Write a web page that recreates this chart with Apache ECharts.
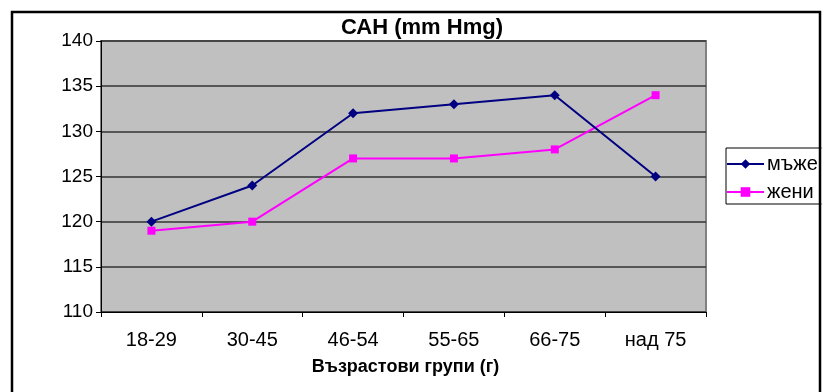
<!DOCTYPE html>
<html>
<head>
<meta charset="utf-8">
<script src="https://cdn.jsdelivr.net/npm/echarts@6/dist/echarts.min.js"></script>
<style>
  html, body { margin: 0; padding: 0; background: #fff; }
  #chart { width: 824px; height: 392px; }
</style>
</head>
<body>
<div id="chart"></div>
<script>
// Age groups and mean systolic pressure per group
const categories = ['18-29', '30-45', '46-54', '55-65', '66-75', 'над 75'];
const men = [120, 124, 132, 133, 134, 125];
const women = [119, 120, 127, 127, 128, 134];
const yTicks = { min: 110, max: 140, step: 5 };

const font = '"Liberation Sans", Arial, sans-serif';
const chart = echarts.init(document.getElementById('chart'), null, { renderer: 'canvas' });

chart.setOption({
  backgroundColor: '#ffffff',
  animation: false,
  title: {
    text: 'САН (mm Hmg)',
    left: 341,
    top: 17,
    padding: 0,
    textStyle: { fontFamily: font, fontSize: 22, fontWeight: 'bold', color: '#000' }
  },
  legend: {
    left: 726,
    top: 148,
    orient: 'vertical',
    padding: [6, 40, 2, 0],
    itemGap: 8,
    itemWidth: 37,
    itemHeight: 12,
    borderColor: '#000',
    borderWidth: 1,
    backgroundColor: '#fff',
    textStyle: { fontFamily: font, fontSize: 20, color: '#000', lineHeight: 20, padding: [0, 0, 0, -2] },
    data: ['мъже', 'жени']
  },
  grid: {
    left: 101,
    top: 41,
    right: 118,
    bottom: 80,
    show: true,
    backgroundColor: '#C0C0C0',
    borderColor: '#808080',
    borderWidth: 2
  },
  xAxis: {
    type: 'category',
    data: categories,
    boundaryGap: true,
    name: 'Възрастови групи (г)',
    nameLocation: 'middle',
    nameGap: 46,
    nameTextStyle: { fontFamily: font, fontSize: 18, fontWeight: 'bold', color: '#000', padding: [0, 0, 0, 4] },
    axisLine: { show: true, lineStyle: { color: '#000', width: 1 } },
    axisTick: { show: true, length: 5, lineStyle: { color: '#000' } },
    axisLabel: { fontFamily: font, fontSize: 20, color: '#000', margin: 18 },
    splitLine: { show: false }
  },
  yAxis: {
    type: 'value',
    min: yTicks.min,
    max: yTicks.max,
    interval: yTicks.step,
    axisLine: { show: true, lineStyle: { color: '#000', width: 1 } },
    axisTick: { show: true, length: 5, lineStyle: { color: '#000' } },
    axisLabel: { fontFamily: font, fontSize: 19, color: '#000', margin: 8 },
    splitLine: { show: true, lineStyle: { color: '#333333', width: 1.5 } }
  },
  series: [
    {
      name: 'мъже',
      type: 'line',
      data: men,
      symbol: 'diamond',
      symbolSize: 10,
      itemStyle: { color: '#000080' },
      lineStyle: { color: '#000080', width: 2 },
      z: 3
    },
    {
      name: 'жени',
      type: 'line',
      data: women,
      symbol: 'rect',
      symbolSize: 8,
      itemStyle: { color: '#FF00FF' },
      lineStyle: { color: '#FF00FF', width: 2 },
      z: 2
    }
  ],
  graphic: [
    {
      type: 'rect',
      z: 100,
      silent: true,
      shape: { x: 12, y: 12, width: 808, height: 400 },
      style: { fill: 'none', stroke: '#000', lineWidth: 2.5 }
    },
    {
      type: 'rect',
      z: 99,
      silent: true,
      shape: { x: 821.5, y: 0, width: 10, height: 392 },
      style: { fill: '#fff' }
    }
  ]
});
</script>
</body>
</html>
